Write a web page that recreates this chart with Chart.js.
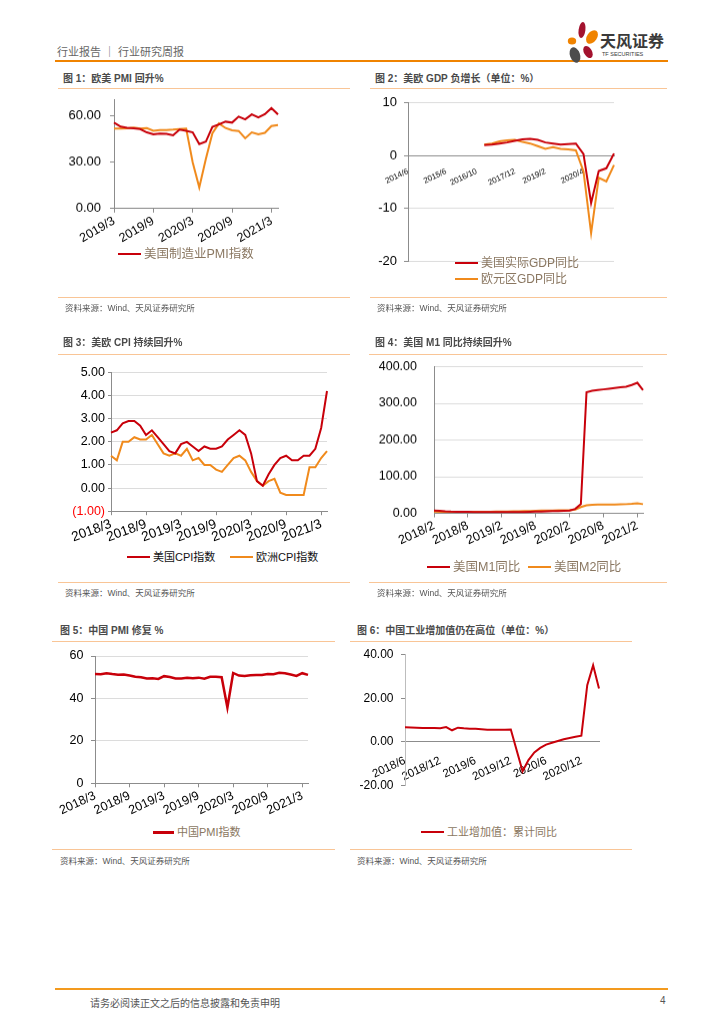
<!DOCTYPE html>
<html>
<head>
<meta charset="utf-8">
<script src="https://cdn.jsdelivr.net/npm/chart.js@4.4.0/dist/chart.umd.min.js"></script>
<style>
  body { margin: 0; background: #fff; }
  #page { position: relative; width: 724px; height: 1024px; overflow: hidden;
          font-family: "Liberation Sans", "Noto Sans CJK SC", sans-serif; }
  .abs { position: absolute; white-space: nowrap; }
  .title { position: absolute; white-space: nowrap; font-size: 10px; line-height: 12px; font-weight: bold; color: #4a4a4a; }
  .rule { position: absolute; height: 0; border-top: 1.5px solid #F9C596; }
  .src { position: absolute; white-space: nowrap; font-size: 8.5px; line-height: 10px; color: #555; }
  .box { position: absolute; }
  .lg { position: absolute; white-space: nowrap; font-size: 12px; line-height: 14px; color: #8a7761; }
  .lg i { display: inline-block; width: 23px; height: 2px; vertical-align: middle; margin-right: 3px; position: relative; top: -1px; }
</style>
</head>
<body>
<div id="page">

  <!-- header -->
  <div class="abs" style="left:57px;top:43px;font-size:11px;color:#666;">行业报告 ｜ 行业研究周报</div>
  <div class="abs" style="left:55px;top:60px;width:613px;border-top:2px solid #F08300;"></div>
  <svg class="abs" style="left:566px;top:21px" width="34" height="44" viewBox="0 0 34 44">
    <ellipse cx="16" cy="9" rx="3.4" ry="8" fill="#A3122E" transform="rotate(8 16 9)"/>
    <ellipse cx="6" cy="20" rx="4.2" ry="3.6" fill="#F08300"/>
    <ellipse cx="26" cy="16" rx="5" ry="7.5" fill="#F08300" transform="rotate(35 26 16)"/>
    <ellipse cx="9" cy="34" rx="5" ry="8" fill="#4D4D4D" transform="rotate(-20 9 34)"/>
    <ellipse cx="22" cy="31" rx="4" ry="6.5" fill="#A3122E" transform="rotate(-30 22 31)"/>
  </svg>
  <div class="abs" style="left:600px;top:31px;font-size:16px;font-weight:bold;color:#3a3a3a;font-family:'Noto Sans CJK SC',sans-serif;line-height:18px;">天风证券</div>
  <div class="abs" style="left:602px;top:51px;font-size:5.5px;color:#3a3a3a;line-height:7px;">TF SECURITIES</div>

  <!-- panel 1 -->
  <div class="title" style="left:63px;top:73px;">图 1：欧美 PMI 回升%</div>
  <div class="rule" style="left:58px;top:88px;width:292px;"></div>
  <div class="box" style="left:50px;top:83.2px;width:240px;height:166.8px;"><canvas id="c1"></canvas></div>
  <div class="lg" style="left:118px;top:247px;font-size:12.5px;"><i style="background:#C8000A"></i>美国制造业PMI指数</div>
  <div class="rule" style="left:58px;top:297px;width:292px;"></div>
  <div class="src" style="left:65px;top:303px;">资料来源：Wind、天风证券研究所</div>

  <!-- panel 2 -->
  <div class="title" style="left:375px;top:73px;">图 2：美欧 GDP 负增长（单位：%）</div>
  <div class="rule" style="left:370px;top:88px;width:297px;"></div>
  <div class="box" style="left:365px;top:87.9px;width:260px;height:186.9px;"><canvas id="c2"></canvas></div>
  <div class="lg" style="left:455px;top:256px;"><i style="background:#C8000A"></i>美国实际GDP同比</div>
  <div class="lg" style="left:455px;top:272px;"><i style="background:#F08A1C"></i>欧元区GDP同比</div>
  <div class="rule" style="left:370px;top:297px;width:297px;"></div>
  <div class="src" style="left:377px;top:303px;">资料来源：Wind、天风证券研究所</div>

  <!-- panel 3 -->
  <div class="title" style="left:63px;top:337px;">图 3：美欧 CPI 持续回升%</div>
  <div class="rule" style="left:58px;top:354px;width:292px;"></div>
  <div class="box" style="left:50px;top:361.8px;width:280px;height:188.2px;"><canvas id="c3"></canvas></div>
  <div class="lg" style="left:127px;top:550px;font-size:11px;color:#111;"><i style="background:#C8000A"></i>美国CPI指数</div>
  <div class="lg" style="left:230px;top:550px;font-size:11px;color:#111;"><i style="background:#F08A1C"></i>欧洲CPI指数</div>
  <div class="rule" style="left:58px;top:582px;width:292px;"></div>
  <div class="src" style="left:65px;top:588px;">资料来源：Wind、天风证券研究所</div>

  <!-- panel 4 -->
  <div class="title" style="left:375px;top:337px;">图 4：美国 M1 同比持续回升%</div>
  <div class="rule" style="left:369px;top:354px;width:298px;"></div>
  <div class="box" style="left:365px;top:342.2px;width:290px;height:212.8px;"><canvas id="c4"></canvas></div>
  <div class="lg" style="left:427px;top:560px;font-size:12.5px;"><i style="background:#C8000A"></i>美国M1同比</div>
  <div class="lg" style="left:528px;top:560px;font-size:12.5px;"><i style="background:#F08A1C"></i>美国M2同比</div>
  <div class="rule" style="left:369px;top:582px;width:298px;"></div>
  <div class="src" style="left:377px;top:588px;">资料来源：Wind、天风证券研究所</div>

  <!-- panel 5 -->
  <div class="title" style="left:60px;top:625px;">图 5：中国 PMI 修复 %</div>
  <div class="rule" style="left:52px;top:641px;width:283px;"></div>
  <div class="box" style="left:50px;top:641px;width:265px;height:184px;"><canvas id="c5"></canvas></div>
  <div class="lg" style="left:153px;top:825px;font-size:11px;"><i style="background:#C8000A;width:21px;height:3px;"></i>中国PMI指数</div>
  <div class="rule" style="left:52px;top:849px;width:283px;"></div>
  <div class="src" style="left:60px;top:856px;">资料来源：Wind、天风证券研究所</div>

  <!-- panel 6 -->
  <div class="title" style="left:357px;top:625px;">图 6：中国工业增加值仍在高位（单位：%）</div>
  <div class="rule" style="left:350px;top:641px;width:282px;"></div>
  <div class="box" style="left:345px;top:640.3px;width:270px;height:160.1px;"><canvas id="c6"></canvas></div>
  <div class="lg" style="left:421px;top:825px;font-size:11px;"><i style="background:#C8000A"></i>工业增加值：累计同比</div>
  <div class="rule" style="left:350px;top:849px;width:282px;"></div>
  <div class="src" style="left:357px;top:856px;">资料来源：Wind、天风证券研究所</div>

  <!-- footer -->
  <div class="abs" style="left:55px;top:988px;width:613px;border-top:2px solid #F39A1E;"></div>
  <div class="abs" style="left:90px;top:995px;font-size:10px;color:#555;">请务必阅读正文之后的信息披露和免责申明</div>
  <div class="abs" style="left:660px;top:995px;font-size:10px;color:#555;">4</div>
</div>

<script>
// ---- data ----
const pmiMonths = ['2019/3','2019/4','2019/5','2019/6','2019/7','2019/8','2019/9','2019/10','2019/11','2019/12',
  '2020/1','2020/2','2020/3','2020/4','2020/5','2020/6','2020/7','2020/8','2020/9','2020/10','2020/11','2020/12',
  '2021/1','2021/2','2021/3','2021/4'];
const usPmi = [55.3,52.8,52.1,51.7,51.2,49.1,47.8,48.3,48.1,47.2,50.9,50.1,49.1,41.5,43.1,52.6,54.2,56.0,55.4,59.3,57.5,60.7,58.7,60.8,64.7,60.7];
const euPmi = [51.6,51.5,51.8,52.2,51.5,51.9,50.1,50.6,50.6,50.9,51.3,51.6,29.7,13.6,31.9,48.5,54.9,51.9,50.4,50.0,45.3,49.1,47.8,48.8,53.2,53.8];

const gdpTicks = ['2014/6','','','','','2015/6','','','','2016/10','','','','','2017/12','','','','2019/2','','','','','2020/4','','','',''];
const usGdp = [null,null,null,null,null,null,null,null,null,null,
  2.0,2.1,2.3,2.5,2.8,3.1,3.2,3.0,2.5,2.3,2.1,2.2,2.3,0.3,-9.0,-2.9,-2.4,0.4];
const euGdp = [null,null,null,null,null,null,null,null,null,null,
  2.1,2.3,2.7,2.9,3.0,2.6,2.3,1.8,1.3,1.6,1.3,1.2,1.0,-3.0,-14.7,-4.2,-4.9,-1.8];

const cpiMonths = ['2018/3','2018/4','2018/5','2018/6','2018/7','2018/8','2018/9','2018/10','2018/11','2018/12',
  '2019/1','2019/2','2019/3','2019/4','2019/5','2019/6','2019/7','2019/8','2019/9','2019/10','2019/11','2019/12',
  '2020/1','2020/2','2020/3','2020/4','2020/5','2020/6','2020/7','2020/8','2020/9','2020/10','2020/11','2020/12',
  '2021/1','2021/2','2021/3','2021/4'];
const usCpi = [2.4,2.5,2.8,2.9,2.9,2.7,2.3,2.5,2.2,1.9,1.6,1.5,1.9,2.0,1.8,1.6,1.8,1.7,1.7,1.8,2.1,2.3,
  2.5,2.3,1.5,0.3,0.1,0.6,1.0,1.3,1.4,1.2,1.2,1.4,1.4,1.7,2.6,4.2];
const euCpi = [1.4,1.2,2.0,2.0,2.2,2.1,2.1,2.3,1.9,1.5,1.4,1.5,1.4,1.7,1.2,1.3,1.0,1.0,0.8,0.7,1.0,1.3,
  1.4,1.2,0.7,0.3,0.1,0.3,0.4,-0.2,-0.3,-0.3,-0.3,-0.3,0.9,0.9,1.3,1.6];

const moneyMonths = ['2018/2','2018/3','2018/4','2018/5','2018/6','2018/7','2018/8','2018/9','2018/10','2018/11','2018/12',
  '2019/1','2019/2','2019/3','2019/4','2019/5','2019/6','2019/7','2019/8','2019/9','2019/10','2019/11','2019/12',
  '2020/1','2020/2','2020/3','2020/4','2020/5','2020/6','2020/7','2020/8','2020/9','2020/10','2020/11','2020/12',
  '2021/1','2021/2','2021/3'];
const usM1 = [7.5,7,5.5,4.5,4,4,3.8,3.6,3.5,3.6,3.4,3.5,3.2,3.3,3.2,3.4,3.6,4,4.5,5,5.5,6,6.5,7,7.5,12,25,
  330,334,336,338,340,342,344,345,350,356,336];
const usM2 = [4.5,4.2,4,4,4,3.9,3.8,3.8,3.9,4,4.2,4.5,4.8,5,5.2,5.5,6,6.5,7,7.3,7.5,7.8,8,8,8,10.5,17,
  22,23.5,24,24,24,24,24.5,25,26,27.5,25];

const cnPmiMonths = cpiMonths;
const cnPmi = [51.5,51.4,51.9,51.5,51.2,51.3,50.8,50.2,50.0,49.4,49.5,49.2,50.5,50.1,49.4,49.4,49.7,49.5,49.8,49.3,
  50.2,50.2,50.0,35.7,52.0,50.8,50.6,50.9,51.1,51.0,51.5,51.4,52.1,51.9,51.3,50.6,51.9,51.1];

const ivaMonths = ['2018/6','2018/7','2018/8','2018/9','2018/10','2018/11','2018/12','2019/1','2019/2','2019/3',
  '2019/4','2019/5','2019/6','2019/7','2019/8','2019/9','2019/10','2019/11','2019/12','2020/1','2020/2','2020/3',
  '2020/4','2020/5','2020/6','2020/7','2020/8','2020/9','2020/10','2020/11','2020/12','2021/1','2021/2','2021/3'];
const cnIva = [6.7,6.6,6.5,6.4,6.4,6.3,6.2,6.8,5.3,6.5,6.2,6.0,6.0,5.8,5.6,5.6,5.6,5.6,5.7,null,
  -13.5,-8.4,-4.9,-2.8,-1.3,-0.4,0.4,1.2,1.8,2.3,2.8,26,35.1,24.5];

// ---- style ----
const RED = '#C8000A';
const ORANGE = '#F08A1C';
const GRID = '#dcdcdc';
const AXIS = '#8c8c8c';

Chart.defaults.font.family = '"Liberation Sans", "Noto Sans CJK SC", sans-serif';
Chart.defaults.color = '#000';

// only show a tick mark where a label is shown
const shown = color => ctx => (ctx.tick && ctx.tick.label) ? color : 'rgba(0,0,0,0)';

function pick(labels, ends) {
  return function (value, index) {
    const l = labels[index];
    return ends.some(e => l.endsWith(e)) ? l : null;
  };
}

function bottomX(labels, ends, rot, size, height) {
  return {
    grid: { drawOnChartArea: false, tickLength: 4, tickColor: shown(AXIS) },
    border: { color: AXIS },
    ticks: { autoSkip: false, minRotation: rot, maxRotation: rot, padding: 1, color: '#000',
             font: { size: size }, callback: pick(labels, ends) },
    afterFit: s => { s.height = height; }
  };
}

// the y tick labels' half height + padding sets the top/bottom room,
// so the boxes above are placed to leave exactly that room
function lineChart(id, labels, series, pad, x, y) {
  return new Chart(document.getElementById(id), {
    type: 'line',
    data: {
      labels: labels,
      datasets: series.map(s => ({
        label: s.label, data: s.data, borderColor: s.color, backgroundColor: s.color,
        borderWidth: s.width || 2, pointRadius: 0, tension: 0, spanGaps: true, fill: false
      }))
    },
    options: {
      responsive: true, maintainAspectRatio: false, animation: false,
      layout: { padding: pad },
      plugins: { legend: { display: false }, tooltip: { enabled: false } },
      scales: { x: x, y: y }
    }
  });
}

// chart 1
lineChart('c1', pmiMonths, [
  { label: '美国制造业PMI指数', data: usPmi, color: RED },
  { label: '欧元区PMI', data: euPmi, color: ORANGE }
], { top: 0, right: 12, left: 0, bottom: 0 },
  bottomX(pmiMonths, ['/3', '/9'], 30, 12.5, 42),
  {
    min: 0, max: 70,
    grid: { drawOnChartArea: false, tickLength: 4, tickColor: shown(AXIS) },
    border: { color: AXIS },
    ticks: { stepSize: 30, padding: 9, color: '#000', font: { size: 13 },
             callback: v => v % 30 === 0 ? v.toFixed(2) : null },
    afterFit: s => { s.width = 64; }
  });

// chart 2
lineChart('c2', gdpTicks, [
  { label: '美国实际GDP同比', data: usGdp, color: RED },
  { label: '欧元区GDP同比', data: euGdp, color: ORANGE }
], { top: 0, right: 11, left: 0, bottom: 0 },
  {
    position: { y: 0 },
    grid: { display: false },
    border: { color: AXIS },
    ticks: { autoSkip: false, minRotation: 25, maxRotation: 25, padding: 3, color: '#000',
             font: { size: 8 }, callback: (v, i) => gdpTicks[i] || null }
  },
  {
    min: -20, max: 10,
    grid: { color: c => c.tick.value === 0 ? AXIS : GRID, tickLength: 4, tickColor: AXIS },
    border: { color: AXIS },
    ticks: { stepSize: 10, padding: 7, color: '#000', font: { size: 13 } },
    afterFit: s => { s.width = 43; }
  });

// chart 3
lineChart('c3', cpiMonths, [
  { label: '美国CPI指数', data: usCpi, color: RED },
  { label: '欧洲CPI指数', data: euCpi, color: ORANGE }
], { top: 0, right: 3, left: 0, bottom: 0 },
  bottomX(cpiMonths, ['/3', '/9'], 20, 13.5, 39),
  {
    min: -1, max: 5,
    grid: { color: GRID, tickLength: 3, tickColor: AXIS },
    border: { color: AXIS },
    ticks: { stepSize: 1, padding: 3, font: { size: 12.5 },
             color: c => c.tick.value < 0 ? '#FF0000' : '#000',
             callback: v => v < 0 ? '(' + Math.abs(v).toFixed(2) + ')' : v.toFixed(2) },
    afterFit: s => { s.width = 61; }
  });

// chart 4
lineChart('c4', moneyMonths, [
  { label: '美国M1同比', data: usM1, color: RED },
  { label: '美国M2同比', data: usM2, color: ORANGE }
], { top: 0, right: 12, left: 0, bottom: 0 },
  bottomX(moneyMonths, ['/2', '/8'], 25, 12.5, 42.3),
  {
    min: 0, max: 400,
    grid: { color: GRID, drawTicks: false },
    border: { color: AXIS },
    ticks: { stepSize: 100, padding: 17, color: '#000', font: { size: 12.5 }, callback: v => v.toFixed(2) },
    afterFit: s => { s.width = 69; }
  });

// chart 5
lineChart('c5', cnPmiMonths, [
  { label: '中国PMI指数', data: cnPmi, color: RED, width: 2.5 }
], { top: 0, right: 7, left: 0, bottom: 0 },
  bottomX(cnPmiMonths, ['/3', '/9'], 25, 12.5, 41.7),
  {
    min: 0, max: 60,
    grid: { color: GRID, tickLength: 4, tickColor: AXIS },
    border: { color: AXIS },
    ticks: { stepSize: 20, padding: 7.5, color: '#000', font: { size: 12.5 } },
    afterFit: s => { s.width = 45; }
  });

// chart 6
lineChart('c6', ivaMonths, [
  { label: '工业增加值：累计同比', data: cnIva, color: RED }
], { top: 0, right: 16, left: 0, bottom: 0 },
  {
    position: { y: 0 },
    grid: { display: false },
    border: { color: AXIS },
    ticks: { autoSkip: false, minRotation: 25, maxRotation: 25, padding: 4, color: '#000',
             font: { size: 11.5 }, callback: pick(ivaMonths, ['/6', '/12']) }
  },
  {
    min: -20, max: 40,
    grid: { drawOnChartArea: false, tickLength: 4, tickColor: AXIS },
    border: { color: '#bdbdbd' },
    ticks: { stepSize: 20, padding: 7.5, color: '#000', font: { size: 12 }, callback: v => v.toFixed(2) },
    afterFit: s => { s.width = 60; }
  });
</script>
</body>
</html>
